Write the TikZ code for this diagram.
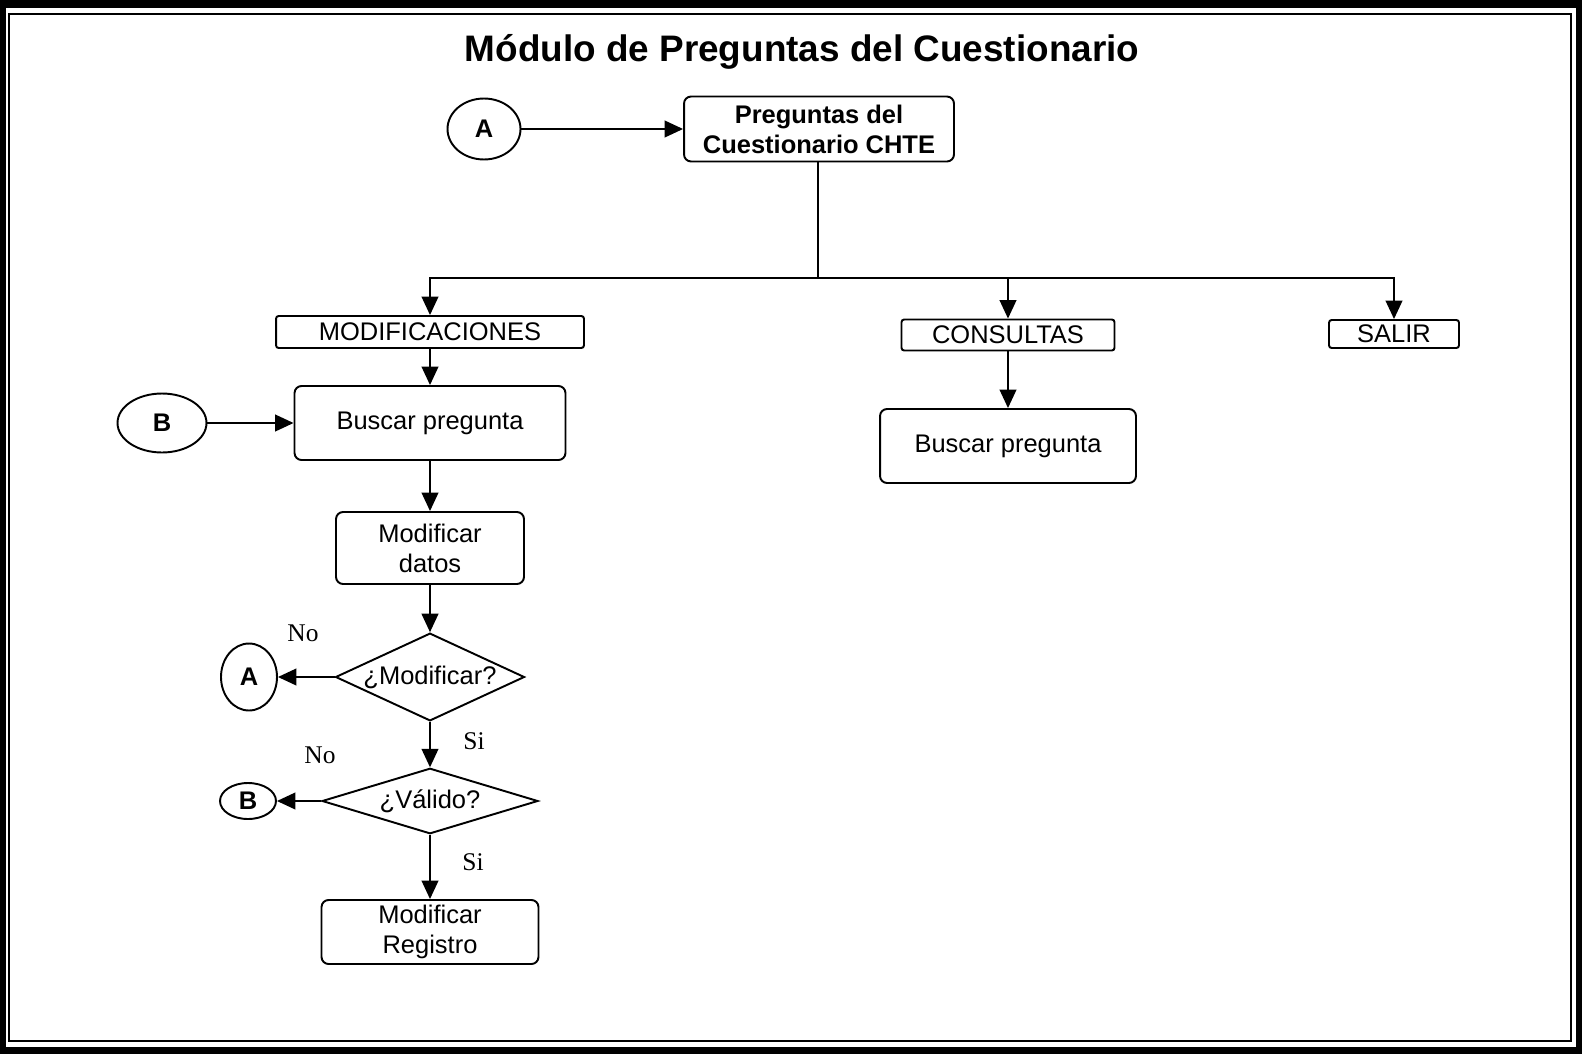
\documentclass[tikz,border=0pt]{standalone}
\usepackage{fontspec}
\setmainfont{Liberation Sans}
\newfontfamily\timesfont{Liberation Serif}
\usetikzlibrary{arrows.meta,shapes.geometric}

\begin{document}
\begin{tikzpicture}[x=0.02cm,y=-0.02cm,
    font=\fontsize{14.5}{17}\selectfont,
    line width=1.1pt,
    flecha/.style={-{Triangle[length=10.5pt,width=9.5pt]}},
    caja/.style={draw,rounded corners=4pt,align=center,inner sep=0pt},
    opcion/.style={draw,rounded corners=1.5pt,inner sep=0pt},
    decision/.style={draw,diamond,inner sep=0pt},
    conector/.style={draw,ellipse,inner sep=0pt,font=\fontsize{14.5}{17}\selectfont\bfseries},
    etiqueta/.style={font=\fontsize{14.5}{17}\selectfont\timesfont}]
    \useasboundingbox (0,0) rectangle (1582,1055);

    % marco
    \draw[line width=4pt] (2,4) rectangle (1579,1050);
    \draw[line width=0.8pt] (9,14) rectangle (1571,1041);

    \node (titulo) at (802,52) {\fontsize{21}{25}\selectfont\bfseries M\'odulo de Preguntas del Cuestionario};

    % cajas
    \node[caja,minimum width=5.4cm,minimum height=1.3cm,font=\fontsize{14.5}{17}\selectfont\bfseries]
        (preguntas) at (819,129) {Preguntas del\\Cuestionario CHTE};
    \node[opcion,minimum width=6.16cm,minimum height=0.64cm] (modif) at (430,332) {MODIFICACIONES};
    \node[opcion,minimum width=4.26cm,minimum height=0.62cm] (consul) at (1008,335) {CONSULTAS};
    \node[opcion,minimum width=2.6cm,minimum height=0.56cm] (salir) at (1394,334) {SALIR};
    \node[caja,minimum width=5.42cm,minimum height=1.48cm] (buscarM) at (430,423) {Buscar pregunta};
    \node[caja,minimum width=5.12cm,minimum height=1.48cm] (buscarC) at (1008,446) {Buscar pregunta};
    \node[caja,minimum width=3.76cm,minimum height=1.44cm] (datos) at (430,548) {Modificar\\datos};
    \node[decision,shape aspect=2.05,minimum width=3.78cm] (esMod) at (430,677) {¿Modificar?};
    \node[decision,shape aspect=2.37,minimum width=4.32cm] (esVal) at (430,801) {¿Válido?};
    \node[caja,minimum width=4.34cm,minimum height=1.28cm] (registro) at (430,932) {Modificar\\Registro};

    % conectores
    \node[conector,minimum width=1.46cm,minimum height=1.22cm] (A1) at (484,129) {A};
    \node[conector,minimum width=1.78cm,minimum height=1.18cm] (B1) at (162,423) {B};
    \node[conector,minimum width=1.12cm,minimum height=1.34cm] (A2) at (249,677) {A};
    \node[conector,minimum width=1.12cm,minimum height=0.72cm] (B2) at (248,801) {B};

    \coordinate (rama) at (818,278);

    \begin{scope}[flecha]
        \draw (A1) -- (preguntas);
        \draw (B1) -- (buscarM);
        \draw (rama) -| (modif.north);
        \draw (rama) -| (consul.north);
        \draw (rama) -| (salir.north);
        \draw (modif) -- (buscarM);
        \draw (consul) -- (buscarC);
        \draw (buscarM) -- (datos);
        \draw (datos) -- (esMod);
        \draw (esMod) -- (A2);
        \draw (esMod) -- (esVal);
        \draw (esVal) -- (B2);
        \draw (esVal) -- (registro);
    \end{scope}
    \draw (preguntas.south -| rama) -- (rama);

    \node[etiqueta] (no1) at (303,633) {No};
    \node[etiqueta] (si1) at (474,741) {Si};
    \node[etiqueta] (no2) at (320,755) {No};
    \node[etiqueta] (si2) at (473,862) {Si};
\end{tikzpicture}
\end{document}
